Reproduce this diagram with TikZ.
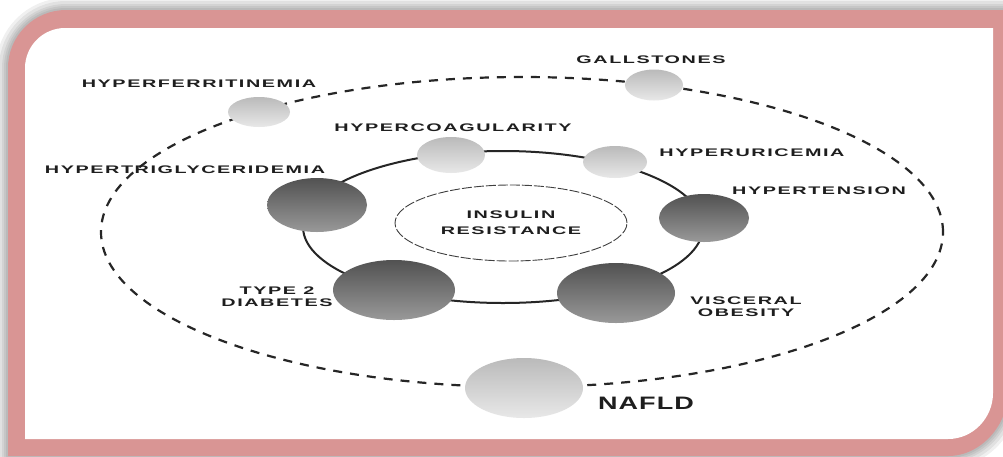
\documentclass[tikz,border=0pt]{standalone}
\usepackage{fontspec}
\setmainfont{Liberation Sans}
\newfontfamily\lblfont[LetterSpace=8]{Liberation Sans}
\newfontfamily\nafldfont[LetterSpace=4]{Liberation Sans}
\usetikzlibrary{shapes.geometric}
\definecolor{framepink}{HTML}{D99594}
\definecolor{txt}{HTML}{1E1E1E}
\definecolor{ringcol}{HTML}{262626}
\newcommand\widen[2][1.8]{\scalebox{#1}[1]{#2}}
\newcommand\twolines[2]{\widen{\begin{tabular}{@{}c@{}}#1\\#2\end{tabular}}}
\begin{document}
\begin{tikzpicture}[x=1pt,y=-1pt,
  blob/.style={ellipse, draw=none, inner sep=0pt},
  darkblob/.style={blob, top color=black!68, bottom color=black!40},
  lightblob/.style={blob, top color=black!27, bottom color=black!9},
  lbl/.style={text=txt, font=\lblfont\bfseries\fontsize{11}{12}\selectfont, inner sep=0pt, align=center},
  outerring/.style={draw=ringcol, line width=2.2pt, dash pattern=on 9pt off 8pt},
  innerring/.style={draw=ringcol, line width=2pt},
  shadowline/.style={draw=black, draw opacity=0.06, line join=round}
]
\useasboundingbox (0,0) rectangle (1003,456);
\clip (0,0) rectangle (1003,456);
\fill[white] (0,0) rectangle (1003,456);

% frame with soft shadow
\def\outerframe{(8,456) -- (8,68) .. controls (8,36) and (34,10) .. (66,10) -- (1008,10) -- (1008,392) .. controls (1008,425) and (981,456) .. (948,456) -- cycle}
\foreach \w in {24,18,12,8,4}{
  \path[shadowline, line width=\w pt] \outerframe;
}
\fill[framepink] \outerframe;
\fill[white] (25,439) -- (25,68) .. controls (25,46) and (43,28) .. (65,28) -- (993,28) -- (993,393) .. controls (993,418) and (973,439) .. (948,439) -- cycle;

% rings
\coordinate (outerc) at (522,232);
\coordinate (innerc) at (503,227);
\draw[outerring] (outerc) ellipse [x radius=421pt, y radius=155pt];
\draw[innerring] (innerc) ellipse [x radius=200pt, y radius=76pt];

% centre
\node[ellipse, draw=black!75, line width=0.9pt, dash pattern=on 10pt off 2pt,
      minimum width=232pt, minimum height=76pt, inner sep=0pt,
      text=txt, font=\lblfont\bfseries\fontsize{11}{16}\selectfont]
  (ir) at (511,223) {\widen{\begin{tabular}{@{}c@{}}INSULIN\\RESISTANCE\end{tabular}}};

% inner ring nodes
\node[lightblob, minimum width=68pt, minimum height=36pt] (hcoag) at (451,155) {};
\node[lightblob, minimum width=64pt, minimum height=32pt] (huric) at (615,162) {};
\node[darkblob, minimum width=90pt, minimum height=48pt] (htens) at (704,218) {};
\node[darkblob, minimum width=118pt, minimum height=60pt] (visc) at (616,293) {};
\node[darkblob, minimum width=122pt, minimum height=60pt] (t2d) at (394,290) {};
\node[darkblob, minimum width=100pt, minimum height=54pt] (htrig) at (317,205) {};

% outer ring nodes
\node[lightblob, minimum width=62pt, minimum height=30pt] (hferr) at (259,112) {};
\node[lightblob, minimum width=58pt, minimum height=31pt] (gall) at (654,85) {};
\node[lightblob, minimum width=118pt, minimum height=60pt] (nafld) at (524,388) {};

% labels
\node[lbl] (lhferr) at (199,84) {\widen{HYPERFERRITINEMIA}};
\node[lbl] (lgall) at (651,60) {\widen{GALLSTONES}};
\node[lbl] (lhcoag) at (453,128) {\widen{HYPERCOAGULARITY}};
\node[lbl] (lhuric) at (752,153) {\widen{HYPERURICEMIA}};
\node[lbl] (lhtens) at (819,191) {\widen{HYPERTENSION}};
\node[lbl] (lhtrig) at (185,170) {\widen{HYPERTRIGLYCERIDEMIA}};
\node[lbl] (lt2d) at (277,298) {\twolines{TYPE 2}{DIABETES}};
\node[lbl] (lvisc) at (746,308) {\twolines{VISCERAL}{OBESITY}};
\node[text=txt, font=\nafldfont\bfseries\fontsize{18}{20}\selectfont, inner sep=0pt] (lnafld) at (646,403) {\widen[1.5]{NAFLD}};
\end{tikzpicture}
\end{document}
